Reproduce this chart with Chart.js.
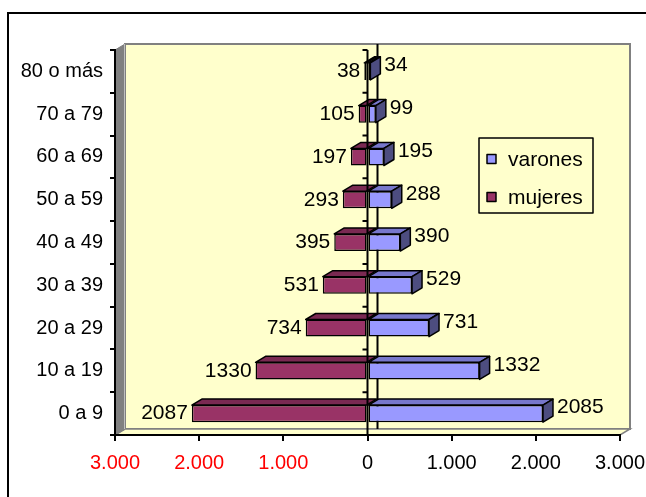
<!DOCTYPE html>
<html>
<head>
<meta charset="utf-8">
<script src="https://cdn.jsdelivr.net/npm/chart.js@4.4.1/dist/chart.umd.min.js"></script>
<style>
  html, body { margin: 0; padding: 0; background: #ffffff; }
  canvas { display: block; }
</style>
</head>
<body>
<canvas id="pyramid" width="646" height="497"></canvas>
<script>
// Población por grupos de edad
const ageGroups = ['0 a 9', '10 a 19', '20 a 29', '30 a 39', '40 a 49', '50 a 59', '60 a 69', '70 a 79', '80 o más'];
const varones = [2085, 1332, 731, 529, 390, 288, 195, 99, 34];
const mujeres = [2087, 1330, 734, 531, 395, 293, 197, 105, 38];
const axisTicks = [-3000, -2000, -1000, 0, 1000, 2000, 3000];

const FONT = "'Liberation Sans', Arial, Helvetica, sans-serif";
const DEPTH = { dx: 10, dy: -6 };
const SHADES = {
  varones: { front: '#9999FF', top: '#7777CC', side: '#4D4D80' },
  mujeres: { front: '#993366', top: '#7A2952', side: '#5C1F3D' }
};

function thousands(v) {
  return String(Math.abs(v)).replace(/\B(?=(\d{3})+(?!\d))/g, '.');
}

function poly(ctx, pts, fill, stroke, lw) {
  ctx.beginPath();
  ctx.moveTo(pts[0][0], pts[0][1]);
  for (let i = 1; i < pts.length; i++) ctx.lineTo(pts[i][0], pts[i][1]);
  ctx.closePath();
  if (fill) { ctx.fillStyle = fill; ctx.fill(); }
  if (stroke) { ctx.strokeStyle = stroke; ctx.lineWidth = lw || 1; ctx.stroke(); }
}

// Walls, floor and frame behind the bars; depth faces, labels and legend on top
const scene = {
  id: 'scene',
  beforeDraw(chart) {
    const { ctx, chartArea: a, scales } = chart;
    const { dx, dy } = DEPTH;
    ctx.save();
    ctx.fillStyle = '#ffffff';
    ctx.fillRect(0, 0, chart.width, chart.height);
    // outer frame
    ctx.strokeStyle = '#000000';
    ctx.lineWidth = 2;
    ctx.strokeRect(8, 13, chart.width + 20, chart.height + 20);
    // back wall
    ctx.fillStyle = '#FFFFCC';
    ctx.fillRect(a.left + dx, a.top + dy, a.right - a.left, a.bottom - a.top);
    ctx.strokeStyle = '#808080';
    ctx.lineWidth = 2;
    ctx.strokeRect(a.left + dx, a.top + dy, a.right - a.left, a.bottom - a.top);
    // floor
    poly(ctx, [[a.left, a.bottom], [a.right, a.bottom], [a.right + dx, a.bottom + dy], [a.left + dx, a.bottom + dy]],
      '#FFFFCC', '#808080', 1.5);
    // side wall
    poly(ctx, [[a.left, a.top], [a.left + dx, a.top + dy], [a.left + dx, a.bottom + dy], [a.left, a.bottom]],
      '#808080', '#808080', 1);
    ctx.strokeStyle = '#C0C0C0';
    ctx.lineWidth = 1;
    ctx.beginPath();
    ctx.moveTo(a.left + dx - 0.5, a.top + dy);
    ctx.lineTo(a.left + dx - 0.5, a.bottom + dy);
    ctx.stroke();
    // zero line on the back wall
    const z = scales.x.getPixelForValue(0) + dx;
    ctx.strokeStyle = '#000000';
    ctx.lineWidth = 2;
    ctx.beginPath();
    ctx.moveTo(z, a.top + dy);
    ctx.lineTo(z, a.bottom + dy);
    ctx.stroke();
    ctx.restore();
  },
  afterDatasetsDraw(chart) {
    const { ctx, chartArea: a, scales } = chart;
    const { dx, dy } = DEPTH;
    ctx.save();
    ctx.lineJoin = 'round';
    // depth faces of each bar
    chart.data.datasets.forEach((ds, di) => {
      const meta = chart.getDatasetMeta(di);
      const shade = SHADES[ds.key];
      meta.data.forEach(bar => {
        const p = bar.getProps(['x', 'y', 'base', 'height'], true);
        const top = p.y - p.height / 2;
        const bottom = p.y + p.height / 2;
        const l = Math.min(p.x, p.base), r = Math.max(p.x, p.base);
        poly(ctx, [[l, top], [r, top], [r + dx, top + dy], [l + dx, top + dy]], shade.top, '#000000', 1.5);
        if (p.x > p.base) {
          poly(ctx, [[r, top], [r + dx, top + dy], [r + dx, bottom + dy], [r, bottom]], shade.side, '#000000', 1.5);
        }
      });
    });
    // category axis at zero, in front of the bars
    const x0 = scales.x.getPixelForValue(0);
    ctx.strokeStyle = '#000000';
    ctx.lineWidth = 2;
    ctx.beginPath();
    ctx.moveTo(x0, a.top);
    ctx.lineTo(x0, a.bottom);
    const n = ageGroups.length;
    for (let i = 0; i < n; i++) {
      const yy = a.top + i * (a.bottom - a.top) / n;
      ctx.moveTo(x0 - 5, yy);
      ctx.lineTo(x0, yy);
    }
    ctx.stroke();
    // value labels
    ctx.fillStyle = '#000000';
    ctx.font = '21px ' + FONT;
    ctx.textBaseline = 'middle';
    chart.data.datasets.forEach((ds, di) => {
      const meta = chart.getDatasetMeta(di);
      const values = ds.key === 'varones' ? varones : mujeres;
      meta.data.forEach((bar, i) => {
        const p = bar.getProps(['x', 'y', 'base'], true);
        if (p.x >= p.base) {
          ctx.textAlign = 'left';
          ctx.fillText(String(values[i]), p.x + dx + 4, p.y + dy);
        } else {
          ctx.textAlign = 'right';
          ctx.fillText(String(values[i]), p.x - 4, p.y);
        }
      });
    });
    // legend
    const lx = 479, ly = 138, lw = 114, lh = 75;
    ctx.fillStyle = '#FFFFCC';
    ctx.fillRect(lx, ly, lw, lh);
    ctx.strokeStyle = '#000000';
    ctx.lineWidth = 1.5;
    ctx.strokeRect(lx, ly, lw, lh);
    ctx.textAlign = 'left';
    chart.data.datasets.forEach((ds, di) => {
      const cy = ly + 21 + di * 38;
      ctx.fillStyle = ds.backgroundColor;
      ctx.fillRect(lx + 8, cy - 4.5, 9, 9);
      ctx.strokeStyle = '#000000';
      ctx.lineWidth = 1.5;
      ctx.strokeRect(lx + 8, cy - 4.5, 9, 9);
      ctx.fillStyle = '#000000';
      ctx.fillText(ds.label, lx + 29, cy + 1);
    });
    ctx.restore();
  }
};

new Chart(document.getElementById('pyramid'), {
  type: 'bar',
  data: {
    labels: ageGroups,
    datasets: [
      { key: 'varones', label: 'varones', data: varones,
        backgroundColor: SHADES.varones.front, borderColor: '#000000', borderWidth: 1.5, borderSkipped: false },
      { key: 'mujeres', label: 'mujeres', data: mujeres.map(v => -v),
        backgroundColor: SHADES.mujeres.front, borderColor: '#000000', borderWidth: 1.5, borderSkipped: false }
    ]
  },
  options: {
    indexAxis: 'y',
    responsive: false,
    animation: false,
    devicePixelRatio: 1,
    layout: { padding: { top: 50, right: 26, left: 0, bottom: 0 } },
    datasets: { bar: { categoryPercentage: 1, barPercentage: 0.4 } },
    plugins: { legend: { display: false }, tooltip: { enabled: false }, title: { display: false } },
    scales: {
      x: {
        stacked: true,
        min: -3000, max: 3000,
        afterBuildTicks: s => { s.ticks = axisTicks.map(v => ({ value: v })); },
        afterFit: s => { s.height = 62; s.paddingLeft = 0; s.paddingRight = 0; },
        grid: { drawOnChartArea: false, color: '#000000', tickLength: 6, lineWidth: 2 },
        border: { display: true, color: '#000000', width: 2 },
        ticks: {
          padding: 10,
          maxRotation: 0,
          autoSkip: false,
          font: { family: FONT, size: 20 },
          color: c => (c.tick && c.tick.value < 0 ? '#FF0000' : '#000000'),
          callback: v => thousands(v)
        }
      },
      y: {
        stacked: true,
        reverse: true,
        afterFit: s => { s.width = 115; s.paddingTop = 0; s.paddingBottom = 0; },
        grid: { drawOnChartArea: false, color: '#000000', tickLength: 5, lineWidth: 2, offset: true },
        border: { display: true, color: '#000000', width: 2 },
        ticks: { padding: 7, font: { family: FONT, size: 20 }, color: '#000000' }
      }
    }
  },
  plugins: [scene]
});
</script>
</body>
</html>
